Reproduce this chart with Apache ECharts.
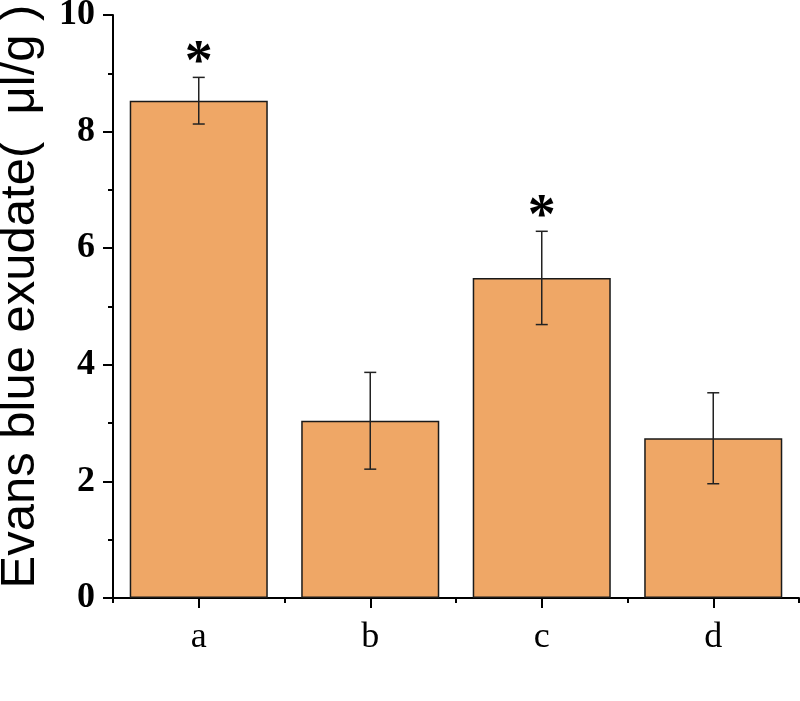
<!DOCTYPE html>
<html>
<head>
<meta charset="utf-8">
<script src="https://cdn.jsdelivr.net/npm/echarts@6/dist/echarts.min.js"></script>
<style>
  html, body { margin: 0; padding: 0; background: #fff; }
  #chart { width: 800px; height: 701px; }
</style>
</head>
<body>
<div id="chart"></div>
<script>
// data
var groups = ["a", "b", "c", "d"];
var exudate = [8.53, 3.04, 5.49, 2.74];
var errors = [0.40, 0.83, 0.80, 0.78];
var marks = ["*", "", "*", ""];
var yTicks = [0, 2, 4, 6, 8, 10];

var serif = "Liberation Serif";
var chart = echarts.init(document.getElementById("chart"));

var errData = groups.map(function (g, i) {
  return [i, exudate[i] - errors[i], exudate[i] + errors[i]];
});

var option = {
  animation: false,
  grid: { left: 113, right: 1, top: 15, bottom: 103, containLabel: false, outerBoundsMode: "none" },
  xAxis: [
    {
      type: "category",
      data: groups,
      axisLine: { show: true, lineStyle: { color: "#000", width: 2 } },
      axisTick: { show: true, interval: 0, alignWithLabel: true, length: 10, lineStyle: { color: "#000", width: 2 } },
      axisLabel: { fontFamily: serif, fontSize: 36, color: "#000", margin: 22 }
    },
    {
      // short ticks on the category boundaries
      type: "category",
      data: groups,
      position: "bottom",
      offset: 0,
      axisLine: { show: false },
      axisTick: { show: true, interval: 0, length: 5, lineStyle: { color: "#000", width: 2 } },
      axisLabel: { show: false }
    }
  ],
  yAxis: {
    type: "value",
    min: yTicks[0],
    max: yTicks[yTicks.length - 1],
    interval: 2,
    name: "Evans blue exudate(  μl/g )",
    nameLocation: "middle",
    nameRotate: 90,
    nameGap: 68,
    nameTextStyle: { fontFamily: "Liberation Sans", fontSize: 49, color: "#000", padding: [0, 0, 0, 20] },
    axisLine: { show: true, lineStyle: { color: "#000", width: 2 } },
    axisTick: { show: true, length: 10, lineStyle: { color: "#000", width: 2 } },
    minorTick: { show: true, splitNumber: 2, length: 5, lineStyle: { color: "#000", width: 2 } },
    splitLine: { show: false },
    axisLabel: { fontFamily: serif, fontWeight: "bold", fontSize: 36, color: "#000", margin: 18 }
  },
  series: [
    {
      type: "bar",
      data: exudate,
      barCategoryGap: "19.5%",
      itemStyle: { color: "#EFA766", borderColor: "#1a1a1a", borderWidth: 1.5 }
    },
    {
      type: "custom",
      data: errData,
      z: 10,
      renderItem: function (params, api) {
        var x = api.value(0);
        var lo = api.coord([x, api.value(1)]);
        var hi = api.coord([x, api.value(2)]);
        var cap = 6;
        var children = [
          { type: "line", shape: { x1: hi[0], y1: hi[1], x2: lo[0], y2: lo[1] }, style: { stroke: "#222", lineWidth: 1.5 } },
          { type: "line", shape: { x1: hi[0] - cap, y1: hi[1], x2: hi[0] + cap, y2: hi[1] }, style: { stroke: "#222", lineWidth: 1.5 } },
          { type: "line", shape: { x1: lo[0] - cap, y1: lo[1], x2: lo[0] + cap, y2: lo[1] }, style: { stroke: "#222", lineWidth: 1.5 } }
        ];
        var m = marks[params.dataIndex];
        if (m) {
          children.push({
            type: "text",
            style: {
              text: m, x: hi[0], y: hi[1] + 15,
              align: "center", verticalAlign: "bottom",
              font: "bold 56px " + serif, fill: "#000"
            }
          });
        }
        return { type: "group", children: children };
      }
    }
  ]
};

chart.setOption(option);
</script>
</body>
</html>
